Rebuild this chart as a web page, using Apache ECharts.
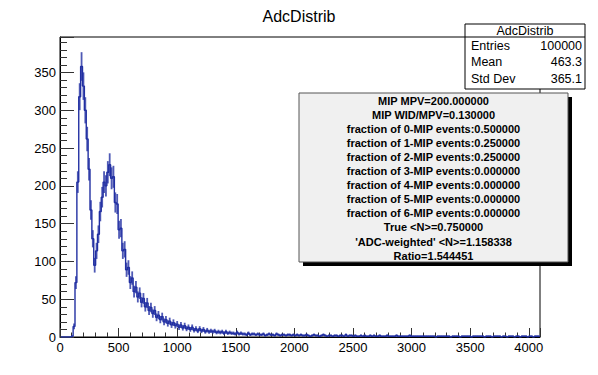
<!DOCTYPE html>
<html>
<head>
<meta charset="utf-8">
<script src="https://cdn.jsdelivr.net/npm/echarts@6/dist/echarts.min.js"></script>
<style>
html,body{margin:0;padding:0;background:#fff;}
#c{width:598px;height:375px;}
</style>
</head>
<body>
<div id="c"></div>
<script>
// ---- data ----
const titleText = 'AdcDistrib';
const xMin = 0;
const xMax = 4096;
const binWidth = 16;
const yMax = 397;
// counts per bin, bins of 16 ADC starting at 0
const counts = [
  0,0,0,0,0,0,1,14,72,205,318,358,332,300,262,222,
  168,130,95,114,136,166,185,205,200,218,228,210,212,178,176,142,
  144,114,116,89,92,72,78,60,66,53,58,46,51,40,45,35,
  39,31,35,26,29,23,27,20,23,18,21,16,19,15,17,13,
  16,12,15,11,13,10,13,9,11,8,11,8,10,7,9,7,
  8,7,8,6,7,6,7,5,7,5,6,5,5,4,6,4,
  5,4,4,3,5,3,4,4,3,4,3,3,4,2,3,4,
  3,3,2,4,3,2,3,3,2,3,3,2,3,2,3,2,
  3,2,2,3,2,1,2,3,2,2,1,2,3,2,1,2,
  2,1,2,2,1,2,2,1,3,1,2,2,1,2,1,1,
  2,1,2,1,1,2,1,2,1,1,2,1,1,1,2,1,
  1,1,1,2,1,1,1,1,1,1,2,1,1,1,1,1,
  1,1,1,1,1,1,1,1,0,1,1,1,1,1,1,1,
  0,1,1,1,1,0,1,1,1,1,1,0,1,1,1,1,
  1,1,0,1,1,1,0,1,1,1,1,0,1,1,0,1,
  1,1,0,1,1,0,1,1,1,0,1,1,0,1,1,1
];
const xTickLabels = ['0','500','1000','1500','2000','2500','3000','3500','4000'];
const yTickLabels = ['0','50','100','150','200','250','300','350'];
const statsLabels = ['Entries','Mean','Std Dev'];
const statsValues = ['100000','463.3','365.1'];
const infoLines = [
  'MIP MPV=200.000000',
  'MIP WID/MPV=0.130000',
  'fraction of 0-MIP events:0.500000',
  'fraction of 1-MIP events:0.250000',
  'fraction of 2-MIP events:0.250000',
  'fraction of 3-MIP events:0.000000',
  'fraction of 4-MIP events:0.000000',
  'fraction of 5-MIP events:0.000000',
  'fraction of 6-MIP events:0.000000',
  'True <N>=0.750000',
  "'ADC-weighted' <N>=1.158338",
  'Ratio=1.544451'
];

// ---- build ----
const FONT = '"Liberation Sans", Arial, Helvetica, sans-serif';
const histColor = '#2230a2';
const points = counts.map((c, i) => [xMin + (i + 0.5) * binWidth, c]);

const chart = echarts.init(document.getElementById('c'), null, {renderer: 'svg'});

const graphics = [];
// stats box
const sx = 465, sy = 24, sw = 120, sh = 65;
graphics.push({type:'rect', shape:{x:sx, y:sy, width:sw, height:sh}, style:{fill:'#fff', stroke:'#000', lineWidth:1}, z:100});
graphics.push({type:'line', shape:{x1:sx, y1:sy+13, x2:sx+sw, y2:sy+13}, style:{stroke:'#000', lineWidth:1}, z:101});
graphics.push({type:'text', x:sx+sw/2, y:sy+7, style:{text:titleText, font:'12.5px '+FONT, fill:'#000', textAlign:'center', textVerticalAlign:'middle'}, z:102});
statsLabels.forEach((l, k) => {
  const yy = sy + 22 + k*16.3;
  graphics.push({type:'text', x:sx+6, y:yy, style:{text:l, font:'12.5px '+FONT, fill:'#000', textAlign:'left', textVerticalAlign:'middle'}, z:102});
  graphics.push({type:'text', x:sx+sw-3, y:yy, style:{text:statsValues[k], font:'12.5px '+FONT, fill:'#000', textAlign:'right', textVerticalAlign:'middle'}, z:102});
});
// info box with shadow
const bx = 299, by = 93, bw = 269, bh = 169;
graphics.push({type:'rect', shape:{x:bx+4, y:by+4, width:bw, height:bh}, style:{fill:'#000'}, z:100});
graphics.push({type:'rect', shape:{x:bx, y:by, width:bw, height:bh}, style:{fill:'#f0f0f0', stroke:'#555', lineWidth:1}, z:101});
infoLines.forEach((t, k) => {
  graphics.push({type:'text', x:bx+bw/2, y:by+7.5+k*14.1, style:{text:t, font:'bold 11px '+FONT, fill:'#000', textAlign:'center', textVerticalAlign:'middle'}, z:102});
});

chart.setOption({
  animation: false,
  backgroundColor: '#fff',
  title: {text: titleText, left: 'center', top: 3, textStyle:{fontSize:16, fontWeight:'normal', color:'#000', fontFamily: FONT}},
  grid: {left:60, right:58, top:37, bottom:38, show:true, borderColor:'#000', borderWidth:1, backgroundColor:'transparent'},
  xAxis: {
    type:'value', min:xMin, max:xMax, interval:500,
    axisLine:{show:true, lineStyle:{color:'#000', width:1}},
    axisTick:{show:true, inside:true, length:9, lineStyle:{color:'#333'}},
    minorTick:{show:true, splitNumber:5, length:4.5, lineStyle:{color:'#333'}},
    splitLine:{show:false},
    axisLabel:{color:'#000', fontSize:13, fontFamily:FONT, margin:4, showMaxLabel:false,
      formatter:(v)=> xTickLabels.includes(String(v)) ? String(v) : ''}
  },
  yAxis: {
    type:'value', min:0, max:yMax, interval:50,
    axisLine:{show:true, lineStyle:{color:'#000', width:1}},
    axisTick:{show:true, inside:true, length:14, lineStyle:{color:'#333'}},
    minorTick:{show:true, splitNumber:5, length:7, lineStyle:{color:'#333'}},
    splitLine:{show:false},
    axisLabel:{color:'#000', fontSize:13, fontFamily:FONT, margin:4, showMaxLabel:false,
      formatter:(v)=> yTickLabels.includes(String(v)) ? String(v) : ''}
  },
  series: [
    {
      type:'line', data: points, step:'middle', symbol:'none',
      lineStyle:{color:histColor, width:1.4}, z:3
    },
    {
      type:'custom', data: points, z:4,
      renderItem: (params, api) => {
        const x = api.value(0), y = api.value(1);
        if (y <= 0) return null;
        const e = Math.sqrt(y);
        const p1 = api.coord([x, y - e]);
        const p2 = api.coord([x, y + e]);
        return {type:'line', shape:{x1:p1[0], y1:p1[1], x2:p2[0], y2:p2[1]},
          style:{stroke:histColor, lineWidth:1.8, opacity:0.8}};
      }
    }
  ],
  graphic: graphics
});
</script>
</body>
</html>
